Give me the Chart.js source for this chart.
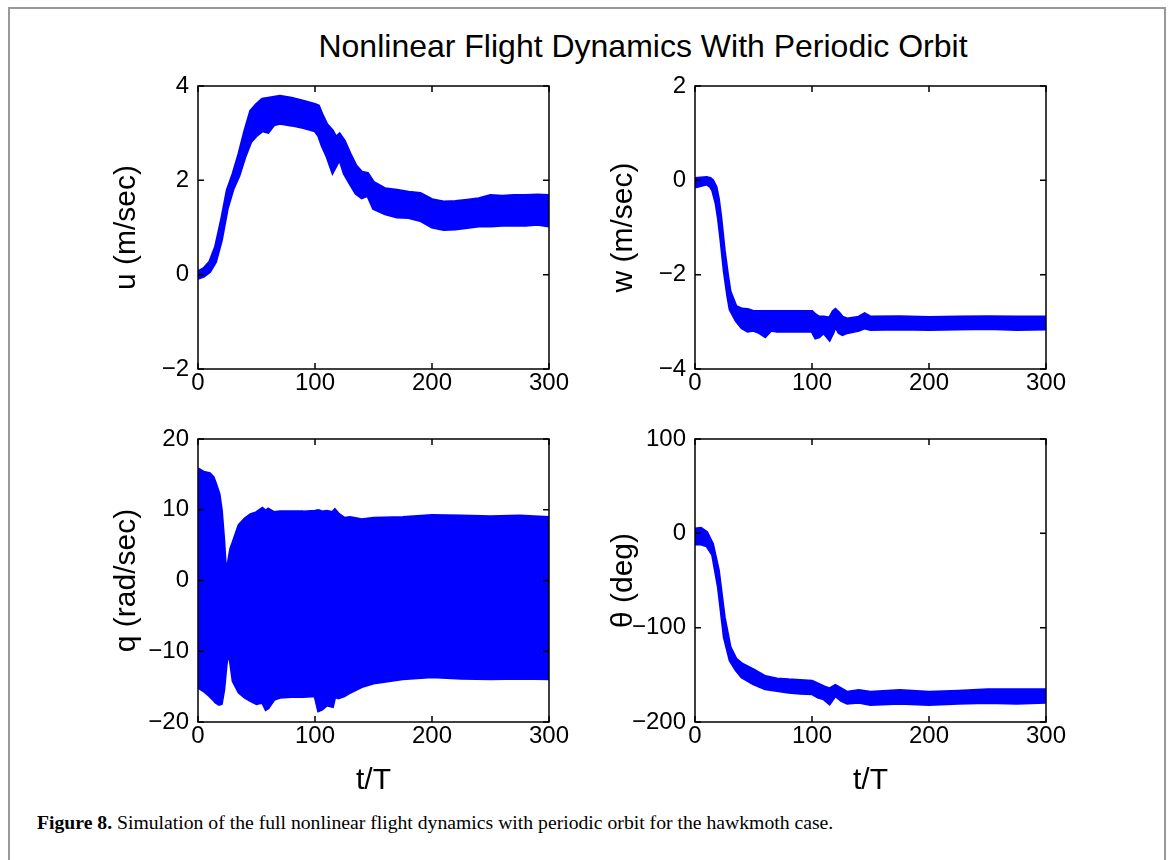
<!DOCTYPE html>
<html>
<head>
<meta charset="utf-8">
<script src="https://cdn.jsdelivr.net/npm/chart.js@4/dist/chart.umd.min.js"></script>
<style>
  body { margin: 0; background: #fff; width: 1171px; height: 860px; overflow: hidden; position: relative; }
  #frame { position: absolute; left: 8px; top: 7px; width: 1158px; height: 900px; border: 2px solid #999; box-sizing: border-box; }
  #title { position: absolute; left: 0; width: 1286px; top: 28px; text-align: center; font: 32px "Liberation Sans", Arial, sans-serif; color: #000; }
  #caption { position: absolute; left: 37px; top: 811px; font: 19.7px "Liberation Serif", "Times New Roman", serif; color: #000; white-space: nowrap; }
  canvas { position: absolute; }
</style>
</head>
<body>
<div id="frame"></div>
<div id="title">Nonlinear Flight Dynamics With Periodic Orbit</div>
<canvas id="cU"></canvas>
<canvas id="cW"></canvas>
<canvas id="cQ"></canvas>
<canvas id="cTh"></canvas>
<div id="caption"><b>Figure 8.</b> Simulation of the full nonlinear flight dynamics with periodic orbit for the hawkmoth case.</div>
<script>
// -----------------------------
// Data (upper / lower edge of each band)
// -----------------------------
const xTicks = [0, 100, 200, 300];

const tU = [0,5,10,15,20,25,30,35,40,45,50,55,60,65,70,80,90,100,103,106,110,115,118,121,125,130,135,140,145,150,160,170,180,190,200,210,220,230,240,250,260,270,280,290,300];
const uUpper = [0.06,0.13,0.27,0.59,1.15,1.79,2.14,2.56,3.05,3.47,3.61,3.72,3.74,3.76,3.78,3.74,3.68,3.61,3.58,3.40,3.19,3.05,2.91,2.98,2.84,2.56,2.31,2.17,2.15,1.96,1.82,1.79,1.75,1.72,1.59,1.54,1.55,1.58,1.61,1.68,1.66,1.68,1.68,1.69,1.68];
const uLower = [-0.08,-0.03,0.06,0.27,0.73,1.40,1.82,2.10,2.49,2.81,2.95,3.05,3.02,3.18,3.21,3.17,3.12,3.05,2.95,2.74,2.52,2.17,2.31,2.45,2.14,1.93,1.72,1.63,1.68,1.40,1.29,1.22,1.21,1.15,1.01,0.96,0.97,1.00,1.03,1.03,1.05,1.05,1.05,1.07,1.03];

const tW = [0,5,10,13,15,18,20,22,25,28,30,35,40,45,50,55,60,65,70,80,90,100,103,106,110,115,118,120,123,126,130,140,145,150,175,200,225,250,275,300];
const wUpper = [0.04,0.05,0.06,0.04,0,-0.14,-0.39,-0.77,-1.48,-2.04,-2.36,-2.67,-2.73,-2.74,-2.78,-2.78,-2.78,-2.78,-2.78,-2.78,-2.78,-2.78,-2.85,-2.90,-2.90,-2.92,-2.78,-2.74,-2.81,-2.90,-2.94,-2.90,-2.83,-2.90,-2.89,-2.91,-2.90,-2.89,-2.90,-2.90];
const wLower = [-0.14,-0.11,-0.08,-0.13,-0.21,-0.49,-0.81,-1.23,-1.93,-2.46,-2.74,-2.97,-3.13,-3.20,-3.18,-3.23,-3.31,-3.18,-3.20,-3.20,-3.20,-3.20,-3.34,-3.32,-3.23,-3.38,-3.23,-3.09,-3.23,-3.27,-3.23,-3.18,-3.13,-3.16,-3.15,-3.16,-3.15,-3.14,-3.16,-3.15];

const tQ = [0,5,10,13,15,18,20,22,24,26,28,30,35,40,45,50,55,58,60,65,70,80,90,100,103,106,110,115,117,120,125,130,140,150,175,200,225,250,275,300];
const qUpper = [15.8,15.3,15.1,14.6,13.7,12.2,9.9,5.7,0.4,2.6,4.5,5.4,7.8,8.7,9.3,9.6,10.2,9.8,10.1,9.6,9.7,9.7,9.7,9.8,9.9,9.7,9.8,9.6,10.0,9.4,8.8,8.9,8.6,8.8,8.9,9.2,9.1,9.0,9.1,8.9];
const qLower = [-15.1,-15.6,-16.3,-16.8,-17.2,-17.5,-17.4,-15.5,-12.0,-9.7,-11.8,-14.2,-15.8,-16.5,-17.0,-17.4,-17.2,-18.2,-18.0,-16.8,-16.5,-16.4,-16.4,-16.3,-18.4,-18.2,-17.6,-17.8,-16.4,-16.6,-16.3,-15.8,-15.0,-14.5,-13.9,-13.6,-13.8,-13.9,-13.8,-13.9];

const tTh = [0,5,10,15,20,25,30,35,40,50,60,70,80,90,100,105,110,115,120,125,130,140,150,175,200,225,250,275,300];
const thUpper = [4.6,5.3,1.1,-11.3,-39.5,-89.0,-120.7,-133.1,-138.4,-144.7,-151.8,-154.3,-155.3,-156.0,-156.7,-159.5,-162.4,-164.8,-161.3,-164.8,-168.4,-166.6,-168.4,-166.6,-168.4,-167.3,-165.9,-165.9,-165.9];
const thLower = [-11.3,-11.3,-13.1,-22.6,-57.2,-110.1,-134.8,-144.7,-152.5,-159.5,-164.8,-166.6,-168.4,-169.4,-170.1,-173.7,-175.4,-180.7,-171.9,-177.2,-180.0,-179.0,-181.4,-180.0,-181.4,-180.0,-179.3,-180.0,-179.0];

// -----------------------------
// MATLAB style box with inward ticks
// -----------------------------
const boxPlugin = {
    id: 'box',
    afterDatasetsDraw(chart) {
        const { ctx, chartArea: a, scales } = chart;
        const tl = 6;
        ctx.save();
        ctx.strokeStyle = '#000';
        ctx.lineWidth = 1.5;
        ctx.strokeRect(a.left, a.top, a.right - a.left, a.bottom - a.top);
        ctx.beginPath();
        scales.x.ticks.forEach(t => {
            const px = scales.x.getPixelForValue(t.value);
            ctx.moveTo(px, a.bottom); ctx.lineTo(px, a.bottom - tl);
            ctx.moveTo(px, a.top); ctx.lineTo(px, a.top + tl);
        });
        scales.y.ticks.forEach(t => {
            const py = scales.y.getPixelForValue(t.value);
            ctx.moveTo(a.left, py); ctx.lineTo(a.left + tl, py);
            ctx.moveTo(a.right, py); ctx.lineTo(a.right - tl, py);
        });
        ctx.stroke();
        ctx.restore();
    }
};

const FONT = '"Liberation Sans", Arial, sans-serif';

function makePlot(id, axis, t, upper, lower, yMin, yMax, yStep, yLabel, showX) {
    const W = axis.right - axis.left + 130;
    const H = axis.bottom - axis.top + 20 + (showX ? 80 : 40);
    const cv = document.getElementById(id);
    cv.width = W; cv.height = H;
    cv.style.left = (axis.left - 100) + 'px';
    cv.style.top = (axis.top - 20) + 'px';

    const band = {
        borderColor: '#0000ff',
        backgroundColor: '#0000ff',
        borderWidth: 3,
        pointRadius: 0,
        tension: 0
    };

    new Chart(cv.getContext('2d'), {
        type: 'line',
        data: {
            datasets: [
                Object.assign({ data: t.map((x, i) => ({ x: x, y: upper[i] })), fill: false }, band),
                Object.assign({ data: t.map((x, i) => ({ x: x, y: lower[i] })), fill: '-1' }, band)
            ]
        },
        options: {
            responsive: false,
            animation: false,
            devicePixelRatio: 1,
            layout: { padding: { left: 0, top: 20, right: 30, bottom: 0 } },
            plugins: { legend: { display: false }, tooltip: { enabled: false } },
            scales: {
                x: {
                    type: 'linear',
                    min: 0, max: 300,
                    afterBuildTicks: s => { s.ticks = xTicks.map(v => ({ value: v })); },
                    grid: { display: false, drawTicks: false },
                    border: { display: false },
                    ticks: { color: '#000', padding: 2, maxRotation: 0, font: { family: FONT, size: 24, lineHeight: 1 } },
                    title: { display: showX, text: 't/T', color: '#000', padding: { bottom: 3 }, font: { family: FONT, size: 30 } },
                    afterFit: s => { s.height = showX ? 80 : 40; }
                },
                y: {
                    min: yMin, max: yMax,
                    ticks: {
                        stepSize: yStep, color: '#000', padding: 9,
                        font: { family: FONT, size: 24, lineHeight: 1 },
                        callback: v => String(v).replace('-', '\u2212')
                    },
                    grid: { display: false, drawTicks: false },
                    border: { display: false },
                    title: { display: true, text: yLabel, color: '#000', padding: { top: 11 }, font: { family: FONT, size: 30 } },
                    afterFit: s => { s.width = 100; }
                }
            }
        },
        plugins: [boxPlugin]
    });
}

makePlot('cU', { left: 198, top: 85, right: 549, bottom: 369 }, tU, uUpper, uLower, -2, 4, 2, 'u (m/sec)', false);
makePlot('cW', { left: 695, top: 85, right: 1046, bottom: 369 }, tW, wUpper, wLower, -4, 2, 2, 'w (m/sec)', false);
makePlot('cQ', { left: 198, top: 438, right: 549, bottom: 722 }, tQ, qUpper, qLower, -20, 20, 10, 'q (rad/sec)', true);
makePlot('cTh', { left: 695, top: 438, right: 1046, bottom: 722 }, tTh, thUpper, thLower, -200, 100, 100, '\u03b8 (deg)', true);
</script>
</body>
</html>
